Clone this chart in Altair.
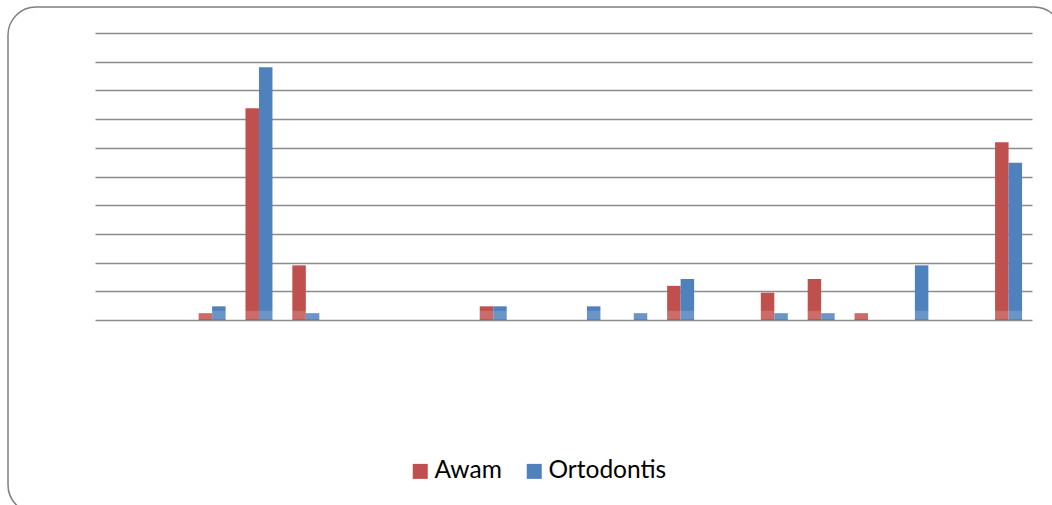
import altair as alt
import pandas as pd

categories = [str(i) for i in range(1, 21)]
series_names = ["Awam", "Ortodontis"]
awam = [0, 0, 1.19, 36.90, 9.52, 0, 0, 0, 2.38, 0, 0, 0, 5.95, 0, 4.76, 7.14, 1.19, 0, 0, 30.95]
ortodontis = [0, 0, 2.38, 44.05, 1.19, 0, 0, 0, 2.38, 0, 2.38, 1.19, 7.14, 0, 1.19, 1.19, 0, 9.52, 0, 27.38]
y_ticks = [0, 5, 10, 15, 20, 25, 30, 35, 40, 45, 50]
colors = ["#C0504D", "#4F81BD"]

rows = []
for i, c in enumerate(categories):
    rows.append({"kat": c, "seri": "Awam", "nilai": awam[i]})
    rows.append({"kat": c, "seri": "Ortodontis", "nilai": ortodontis[i]})
df = pd.DataFrame(rows)
one = pd.DataFrame({"k": [0]})

W, H = 937, 287

bars = alt.Chart(df).mark_bar(strokeWidth=0).encode(
    x=alt.X("kat:N", sort=categories, axis=None,
            scale=alt.Scale(paddingInner=0.424, paddingOuter=0.212)),
    xOffset=alt.XOffset("seri:N", sort=series_names, scale=alt.Scale(paddingInner=0, paddingOuter=0)),
    y=alt.Y("nilai:Q", scale=alt.Scale(domain=[0, 50], nice=False),
            axis=alt.Axis(values=y_ticks, grid=True, gridColor="#8c8c8c", gridWidth=1.6,
                          labels=False, ticks=False, domain=False, title=None)),
    color=alt.Color("seri:N", sort=series_names,
                    scale=alt.Scale(domain=series_names, range=colors),
                    legend=alt.Legend(orient="none", legendX=313, legendY=426, direction="horizontal",
                                      title=None, symbolType="square", symbolSize=225,
                                      symbolStrokeWidth=0, labelFont="Lato", labelFontSize=24.5,
                                      labelColor="#000000", labelOffset=2, columnPadding=20,
                                      symbolOpacity=1)),
)

sheen = alt.Chart(one).mark_rect(fill="white", opacity=0.16).encode(
    x=alt.value(0), x2=alt.value(W), y=alt.value(H - 9.3), y2=alt.value(H - 0.8)
)

border = alt.Chart(one).mark_rect(fillOpacity=0, stroke="#7f7f7f", strokeWidth=1.5, cornerRadius=28).encode(
    x=alt.value(-87), x2=alt.value(967), y=alt.value(-26), y2=alt.value(480)
)

chart = alt.layer(bars, sheen, border).properties(
    width=W, height=H,
    padding={"left": 95, "top": 33, "right": 20, "bottom": 185},
    autosize=alt.AutoSizeParams(type="none"),
    background="white",
).configure_view(stroke=None)

chart.save("out.html", embed_options={"renderer": "svg", "actions": False})
